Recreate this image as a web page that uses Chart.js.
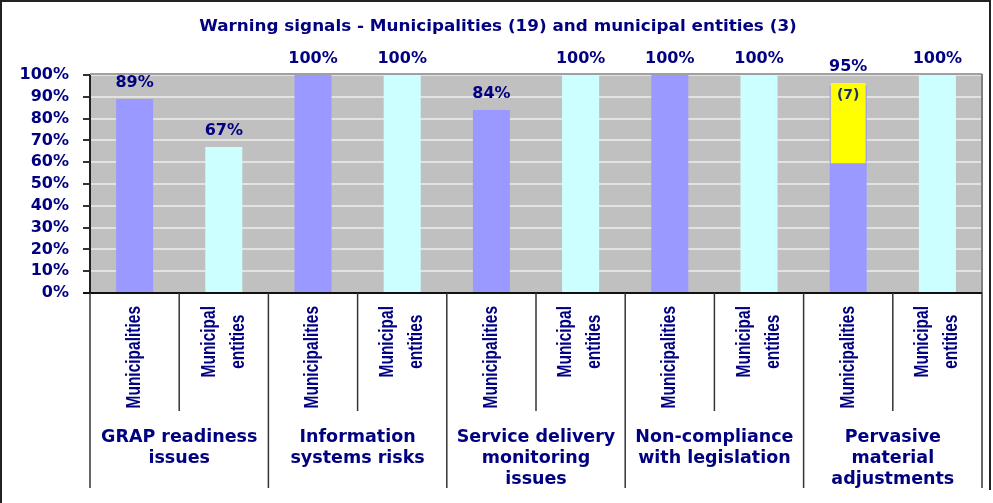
<!DOCTYPE html>
<html>
<head>
<meta charset="utf-8">
<title>Warning signals</title>
<script src="https://cdn.jsdelivr.net/npm/chart.js@4/dist/chart.umd.min.js"></script>
<style>
	body { margin: 0; background: #fff; }
	canvas { display: block; }
</style>
</head>
<body>
<canvas id="barChart" width="993" height="503"></canvas>
<script>
// Grupos de señales de alerta (etiquetas en varias líneas)
const groupLabels = [
	["GRAP readiness", "issues"],
	["Information", "systems risks"],
	["Service delivery", "monitoring", "issues"],
	["Non-compliance", "with legislation"],
	["Pervasive", "material", "adjustments"]
];
const seriesLabels = [["Municipalities"], ["Municipal", "entities"]];

// Porcentajes por grupo
const municipalities = [89, 100, 84, 100, 95];
const municipalEntities = [67, 100, 100, 100, 100];

// Bloque amarillo dentro de la barra de "Pervasive material adjustments"
const highlightGroup = 4;
const highlightCount = 7;
const municipalityTotal = 19;
const highlightBase = 59.5;

const yTicks = [0, 10, 20, 30, 40, 50, 60, 70, 80, 90, 100];

const navy = "#000080";
const purple = "#9999ff";
const cyan = "#ccffff";

// Una columna por serie dentro de cada grupo
const labels = [];
const dataMun = [];
const dataEnt = [];
const dataHigh = [];
groupLabels.forEach((g, i) => {
	labels.push(g.join(" ") + " - " + seriesLabels[0].join(" "));
	labels.push(g.join(" ") + " - " + seriesLabels[1].join(" "));
	dataMun.push(municipalities[i], null);
	dataEnt.push(null, municipalEntities[i]);
	if (i === highlightGroup) {
		dataHigh.push([highlightBase, highlightBase + highlightCount / municipalityTotal * 100], null);
	} else {
		dataHigh.push(null, null);
	}
});

const warningLayout = {
	id: "warningLayout",
	beforeDraw(chart) {
		const { ctx, chartArea: a } = chart;
		ctx.save();
		ctx.fillStyle = "#c0c0c0";
		ctx.fillRect(a.left, a.top, a.right - a.left, a.bottom - a.top);
		ctx.restore();
	},
	afterDatasetsDraw(chart) {
		const { ctx, chartArea: a } = chart;
		const mMun = chart.getDatasetMeta(0);
		const mEnt = chart.getDatasetMeta(1);
		const mHigh = chart.getDatasetMeta(2);

		ctx.save();
		// borde superior y derecho del área de trazado
		ctx.strokeStyle = "#a0a0a0";
		ctx.lineWidth = 2;
		ctx.beginPath();
		ctx.moveTo(a.left, a.top - 1);
		ctx.lineTo(a.right, a.top - 1);
		ctx.stroke();
		ctx.strokeStyle = "#808080";
		ctx.beginPath();
		ctx.moveTo(a.right, a.top - 1);
		ctx.lineTo(a.right, a.bottom);
		ctx.stroke();

		// etiquetas de valor
		ctx.fillStyle = navy;
		ctx.font = 'bold 16px "DejaVu Sans"';
		ctx.textAlign = "center";
		ctx.textBaseline = "middle";
		for (let i = 0; i < labels.length; i++) {
			const isMun = i % 2 === 0;
			const val = isMun ? dataMun[i] : dataEnt[i];
			const bar = (isMun ? mMun : mEnt).data[i];
			let top = bar.y;
			if (dataHigh[i]) top = Math.min(top, mHigh.data[i].y);
			ctx.fillText(val + "%", bar.x, top - 16);
		}

		// cantidad dentro del bloque amarillo
		const hb = mHigh.data[highlightGroup * 2];
		ctx.fillStyle = "#1a3366";
		ctx.font = 'bold 14px "DejaVu Sans"';
		ctx.fillText("(" + highlightCount + ")", hb.x, hb.y + 12);
		ctx.restore();
	},
	afterDraw(chart) {
		const { ctx, chartArea: a } = chart;
		const colW = (a.right - a.left) / labels.length;

		ctx.save();
		// línea del eje de categorías
		ctx.strokeStyle = "#111";
		ctx.lineWidth = 2;
		ctx.beginPath();
		ctx.moveTo(a.left - 7, a.bottom);
		ctx.lineTo(a.right, a.bottom);
		ctx.stroke();

		// separadores de columnas y de grupos
		ctx.strokeStyle = "#333";
		ctx.lineWidth = 1.5;
		for (let k = 0; k <= labels.length; k++) {
			const x = a.left + k * colW;
			ctx.beginPath();
			ctx.moveTo(x, a.bottom);
			ctx.lineTo(x, k % 2 === 0 ? 488 : 411);
			ctx.stroke();
		}

		// series en vertical
		ctx.fillStyle = navy;
		ctx.font = 'bold 15.5px "Liberation Sans"';
		ctx.textAlign = "center";
		ctx.textBaseline = "middle";
		for (let i = 0; i < labels.length; i++) {
			const lines = seriesLabels[i % 2];
			const cx = chart.scales.x.getPixelForValue(i);
			const w = Math.max(...lines.map(l => ctx.measureText(l).width));
			const cy = 306 + w / 2;
			lines.forEach((l, j) => {
				const off = (j - (lines.length - 1) / 2) * 29;
				ctx.save();
				ctx.translate(cx + off, cy);
				ctx.rotate(-Math.PI / 2);
				ctx.scale(1, 1.25);
				ctx.fillText(l, 0, 0);
				ctx.restore();
			});
		}

		// nombres de los grupos
		ctx.font = 'bold 17.5px "DejaVu Sans"';
		ctx.textBaseline = "alphabetic";
		groupLabels.forEach((g, i) => {
			const cx = a.left + (2 * i + 1) * colW;
			g.forEach((l, j) => ctx.fillText(l, cx, 442 + j * 21));
		});

		// título
		ctx.save();
		ctx.translate(498, 31);
		ctx.scale(1.05, 1);
		ctx.font = 'bold 16px "DejaVu Sans"';
		ctx.fillText("Warning signals - Municipalities (19) and municipal entities (3)", 0, 0);
		ctx.restore();

		// marco exterior
		ctx.strokeStyle = "#222";
		ctx.lineWidth = 2;
		ctx.beginPath();
		ctx.moveTo(1, 503);
		ctx.lineTo(1, 1);
		ctx.lineTo(990, 1);
		ctx.lineTo(990, 490);
		ctx.stroke();
		ctx.restore();
	}
};

const ctx = document.getElementById("barChart").getContext("2d");
new Chart(ctx, {
	type: "bar",
	data: {
		labels: labels,
		datasets: [
			{
				label: "Municipalities",
				data: dataMun,
				backgroundColor: purple,
				order: 1
			},
			{
				label: "Municipal entities",
				data: dataEnt,
				backgroundColor: cyan,
				order: 1
			},
			{
				label: "Highlight",
				data: dataHigh,
				backgroundColor: "#ffff00",
				barPercentage: 0.39,
				order: 0
			}
		]
	},
	options: {
		responsive: false,
		animation: false,
		layout: { padding: { left: 0, right: 11, top: 75, bottom: 210 } },
		datasets: {
			bar: {
				grouped: false,
				barPercentage: 0.415,
				categoryPercentage: 1
			}
		},
		scales: {
			x: { display: false },
			y: {
				min: 0,
				max: 100,
				afterFit: scale => { scale.width = 90; },
				afterBuildTicks: scale => { scale.ticks = yTicks.map(v => ({ value: v })); },
				ticks: {
					color: navy,
					padding: 14,
					autoSkip: false,
					font: { family: "DejaVu Sans", size: 16, weight: "bold" },
					callback: v => v + "%"
				},
				grid: {
					color: "#e2e2e2",
					lineWidth: 2,
					tickLength: 7,
					tickColor: "#333",
					tickWidth: 2
				},
				border: { color: "#222", width: 2 }
			}
		},
		plugins: {
			legend: { display: false },
			tooltip: { enabled: false }
		}
	},
	plugins: [warningLayout]
});
</script>
</body>
</html>
